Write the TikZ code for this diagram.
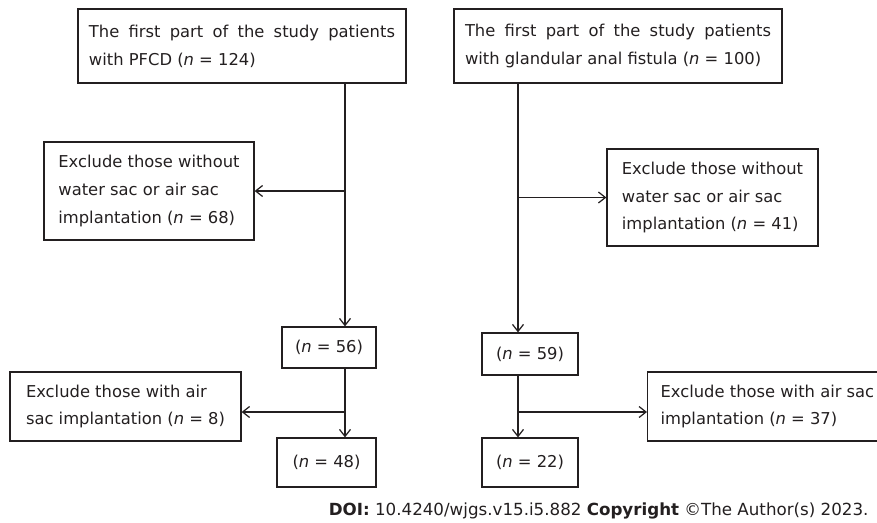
\documentclass[tikz,border=0pt]{standalone}
\usepackage{fontspec}
\setmainfont{DejaVu Sans}
\usetikzlibrary{arrows.meta}
\definecolor{ink}{RGB}{35,31,32}

\begin{document}
\begin{tikzpicture}[font=\fontsize{9.3pt}{15.9pt}\selectfont,color=ink,line width=0.7pt,
  >={Straight Barb[length=1.4mm,width=2.2mm]},
  box/.style={draw,inner sep=0pt,align=center},
  topbox/.style={draw,inner xsep=0.22cm,inner ysep=0pt,text width=6.12cm,align=justify,minimum height=1.48cm},
  exbox/.style={draw,inner sep=0pt,align=left}]

\useasboundingbox (0,0) rectangle (17.54,-10.44);

\coordinate (tL) at (6.9,0);
\coordinate (tR) at (10.36,0);
\coordinate (brL) at (6.9,-8.24);
\coordinate (brR) at (10.36,-8.24);

\node[topbox] (pfcd) at (4.84,-0.92) {The first part of the study patients\linebreak with PFCD (\textit{n} = 124)};
\node[topbox] (gland) at (12.36,-0.92) {The first part of the study patients\linebreak with glandular anal fistula (\textit{n} = 100)};

\node[exbox,minimum width=4.2cm,minimum height=1.96cm] (exA) at (2.98,-3.82) {Exclude those without\\water sac or air sac\\implantation (\textit{n} = 68)};
\node[exbox,minimum width=4.22cm,minimum height=1.94cm] (exB) at (14.25,-3.95) {Exclude those without\\water sac or air sac\\implantation (\textit{n} = 41)};

\node[box,minimum width=1.88cm,minimum height=0.82cm] (n56) at (6.58,-6.95) {(\textit{n} = 56)};
\node[box,minimum width=1.92cm,minimum height=0.84cm] (n59) at (10.6,-7.08) {(\textit{n} = 59)};

\node[exbox,minimum width=4.62cm,minimum height=1.38cm] (exC) at (2.51,-8.13) {Exclude those with air\\sac implantation (\textit{n} = 8)};
\node[exbox,inner xsep=0.26cm,minimum height=1.38cm,anchor=west] (exD) at (12.94,-8.13) {Exclude those with air sac\\implantation (\textit{n} = 37)};

\node[box,minimum width=1.98cm,minimum height=0.98cm] (n48) at (6.53,-9.25) {(\textit{n} = 48)};
\node[box,minimum width=1.92cm,minimum height=0.98cm] (n22) at (10.6,-9.25) {(\textit{n} = 22)};

\draw[->] (pfcd.south -| tL) -- (n56.north -| tL);
\draw[->] (gland.south -| tR) -- (n59.north -| tR);
\draw[->] (exA.east -| tL) -- (exA.east);
\draw[->] (exB.west -| tR) -- (exB.west);

\draw[->] (n56.south -| tL) -- (n48.north -| tL);
\draw[->] (n59.south -| tR) -- (n22.north -| tR);
\draw[->] (brL) -- (brL -| exC.east);
\draw[->] (brR) -- (brR -| exD.west);

\node[anchor=base east,font=\fontsize{9.5pt}{12pt}\selectfont] (doi) at (17.5,-10.3) {\textbf{DOI:} 10.4240/wjgs.v15.i5.882 \textbf{Copyright} ©The Author(s) 2023.};

\end{tikzpicture}
\end{document}
